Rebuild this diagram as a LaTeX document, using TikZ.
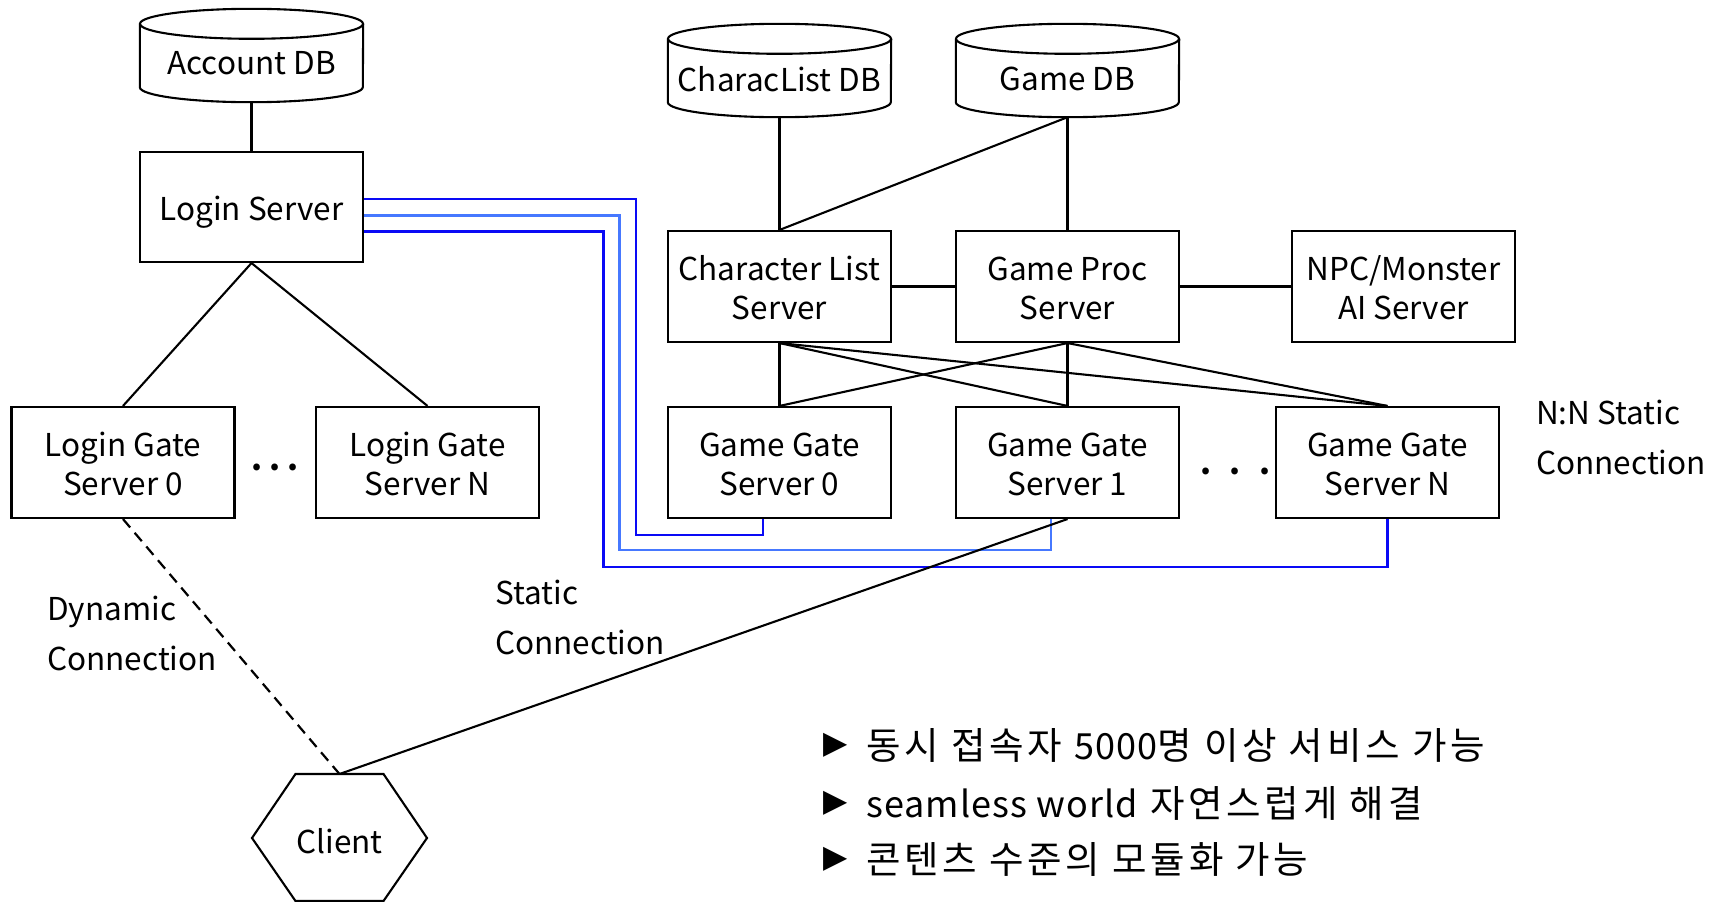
\documentclass[tikz,border=0pt]{standalone}
\usepackage{fontspec}
\setmainfont{Noto Sans CJK KR}
\newfontfamily\symfont{DejaVu Sans}
\newfontfamily\krfont[LetterSpace=10]{Noto Sans CJK KR}
\newfontfamily\latfont[LetterSpace=3]{Noto Sans CJK KR}
\usetikzlibrary{calc}

\definecolor{linkblue}{RGB}{10,10,245}
\definecolor{linklight}{RGB}{70,120,255}

% database drum drawn around a named (invisible) node
\newcommand{\dbdrum}[1]{%
  \draw[line width=2.1pt] ($(#1.north)+(0,-15)$) ellipse [x radius=111.5, y radius=15];
  \draw[line width=2.1pt] ($(#1.north west)+(0,-15)$) -- ($(#1.south west)+(0,15)$)
    arc [start angle=180, end angle=360, x radius=111.5, y radius=15]
    -- ($(#1.north east)+(0,-15)$);
}
% Latin words inside the Korean notes
\newcommand{\lat}[1]{{\latfont\fontsize{36}{50}\selectfont #1}}

\begin{document}
\begin{tikzpicture}[x=1pt, y=1pt,
  every node/.style={font=\fontsize{31.5}{39}\selectfont, inner sep=0pt},
  boxbase/.style={draw, line width=2.1pt, minimum width=223, minimum height=111, align=center},
  server/.style={boxbase, execute at begin node={\rule[-2pt]{0pt}{69pt}}},
  server1/.style={boxbase, execute at begin node={\rule[-8pt]{0pt}{43pt}}},
  drum/.style={minimum width=223, minimum height=93, align=center},
  link/.style={line width=2.1pt},
  dyn/.style={line width=2.2pt, dash pattern=on 11pt off 7pt},
  static/.style={line width=2.1pt},
  note/.style={align=left, anchor=west, font=\fontsize{31.5}{50}\selectfont},
  bullet/.style={anchor=west, font=\krfont\fontsize{37.5}{50}\selectfont},
]
\useasboundingbox (0,0) rectangle (1725,-902);

% databases
\node[drum] (accdb) at (251.5,-55.5) {};
\node at (251.5,-63) {Account DB};
\node[drum] (cldb) at (779.5,-70.5) {};
\node at (779.5,-79) {CharacList DB};
\node[drum] (gamedb) at (1067.5,-70.5) {};
\node at (1067.5,-79) {Game DB};
\dbdrum{accdb}
\dbdrum{cldb}
\dbdrum{gamedb}

% login side
\node[server1, minimum height=110] (login) at (251.5,-207) {Login Server};
\node[server] (lg0) at (123,-462.5) {Login Gate\\Server 0};
\node[server] (lgN) at (427.5,-462.5) {Login Gate\\Server N};
\node (ldots) at (275,-467.5) {\textbf{.\hspace{7pt}.\hspace{7pt}.}};

% game side
\node[server] (cls) at (779.5,-286.5) {Character List\\Server};
\node[server] (gps) at (1067.5,-286.5) {Game Proc\\Server};
\node[server] (npc) at (1403.5,-286.5) {NPC/Monster\\AI Server};
\node[server] (gg0) at (779.5,-462.5) {Game Gate\\Server 0};
\node[server] (gg1) at (1067.5,-462.5) {Game Gate\\Server 1};
\node[server] (ggN) at (1387.5,-462.5) {Game Gate\\Server N};
\node (gdots) at (1235.5,-471.5) {\textbf{.\hspace{18pt}.\hspace{18pt}.}};

% client
\node (client) at (339.5,-838) {};
\node (clientlabel) at (339.5,-841) {Client};
\draw[link] ($(client)+(-44,64)$) -- ($(client)+(44,64)$) -- ($(client)+(87.5,0)$)
  -- ($(client)+(44,-63)$) -- ($(client)+(-44,-63)$) -- ($(client)+(-87.5,0)$) -- cycle;
\coordinate (ctop) at ($(client)+(0,64)$);

% tree connectors
\draw[link] (accdb.south) -- (login.north);
\draw[link] (login.south) -- (lg0.north);
\draw[link] (login.south) -- (lgN.north);
\draw[link] (cldb.south) -- (cls.north);
\draw[link] (gamedb.south) -- (gps.north);
\draw[link] (gamedb.south) -- (cls.north);
\draw[link] (cls.east) -- (gps.west);
\draw[link] (gps.east) -- (npc.west);
\foreach \g in {gg0,gg1,ggN}{
  \draw[link] (cls.south) -- (\g.north);
  \draw[link] (gps.south) -- (\g.north);
}

% login server to game gates
\draw[link, linkblue] ($(login.east)+(0,8)$) -| (636,-535) -| ($(gg0.south)+(-16.5,0)$);
\draw[link, linklight] ($(login.east)+(0,-8.5)$) -| (619.5,-550) -| ($(gg1.south)+(-16.5,0)$);
\draw[link, linkblue] ($(login.east)+(0,-24.5)$) -| (603.5,-567) -| (ggN.south);

% client connections
\draw[dyn] (lg0.south) -- (ctop);
\draw[static] (gg1.south) -- (ctop);

% labels
\node[note] (ldyn) at (47,-633) {Dynamic\\Connection};
\node[note] (lsta) at (495,-617) {Static\\Connection};
\node[note] (lnn) at (1536,-437) {N:N Static\\Connection};

% bullet notes
\node[anchor=west] (b1) at (823,-745) {\symfont ▶};
\node[bullet] (t1) at (866,-745) {동시 접속자 \lat{5000}명 이상 서비스 가능};
\node[anchor=west] (b2) at (823,-803) {\symfont ▶};
\node[bullet] (t2) at (866,-803) {\lat{seamless world} 자연스럽게 해결};
\node[anchor=west] (b3) at (823,-859) {\symfont ▶};
\node[bullet] (t3) at (866,-859) {콘텐츠 수준의 모듈화 가능};
\end{tikzpicture}
\end{document}
